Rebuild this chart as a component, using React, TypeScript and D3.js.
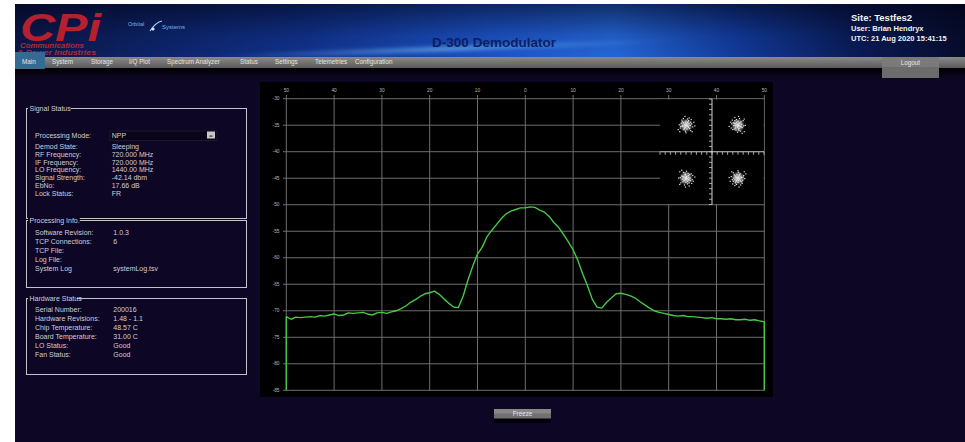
import React from 'react';
import * as d3 from 'd3';

const W = 965;
const H = 442;
const FONT = '"Liberation Sans", Arial, sans-serif';

// ---- data ----
const navTabs = ['Main', 'System', 'Storage', 'I/Q Plot', 'Spectrum Analyzer', 'Status', 'Settings', 'Telemetries', 'Configuration'];

const signalLabels = ['Processing Mode:', 'Demod State:', 'RF Frequency:', 'IF Frequency:', 'LO Frequency:', 'Signal Strength:', 'EbNo:', 'Lock Status:'];
const signalValues = ['NPP', 'Sleeping', '720.000 MHz', '720.000 MHz', '1440.00 MHz', '-42.14 dbm', '17.66 dB', 'FR'];

const procLabels = ['Software Revision:', 'TCP Connections:', 'TCP File:', 'Log File:', 'System Log'];
const procValues = ['1.0.3', '6', '', '', 'systemLog.tsv'];

const hwLabels = ['Serial Number:', 'Hardware Revisions:', 'Chip Temperature:', 'Board Temperature:', 'LO Status:', 'Fan Status:'];
const hwValues = ['200016', '1.48 - 1.1', '48.57 C', '31.00 C', 'Good', 'Good'];

const siteInfo = ['Site: Testfes2', 'User:  Brian Hendryx', 'UTC:  21 Aug 2020 15:41:15'];

const freqTicks = [-50, -40, -30, -20, -10, 0, 10, 20, 30, 40, 50];
const freqTickLabels = ['50', '40', '30', '20', '10', '0', '10', '20', '30', '40', '50'];
const dbTicks = [-30, -35, -40, -45, -50, -55, -60, -65, -70, -75, -80, -85];

const floorDb = -85;
const spectrumStart = -50; // MHz offset of first sample, 1 MHz apart
const spectrumDb = [
  -71.1, -71.6, -71.2, -71.3, -71.2, -71.1, -71.2, -70.9, -71.0, -70.8,
  -70.6, -70.9, -70.8, -70.4, -70.5, -70.4, -70.3, -70.6, -70.8, -70.4,
  -70.3, -70.5, -70.2, -70.0, -69.6, -69.1, -68.4, -67.9, -67.3, -66.8,
  -66.6, -66.3, -66.9, -67.8, -68.6, -69.3, -69.4, -67.2, -64.2, -61.6,
  -59.3, -58.0, -56.0, -54.8, -53.7, -52.6, -51.7, -51.2, -50.9, -50.6,
  -50.6, -50.4, -50.5, -51.0, -51.4, -52.2, -53.4, -54.3, -55.6, -57.0,
  -58.5, -60.5, -63.0, -65.3, -67.8, -69.3, -69.5, -68.4, -67.6, -66.8,
  -66.7, -66.9, -67.2, -67.6, -68.3, -68.9, -69.5, -70.0, -70.3, -70.5,
  -70.7, -70.9, -71.0, -70.9, -71.1, -71.1, -71.2, -71.3, -71.4, -71.3,
  -71.5, -71.5, -71.6, -71.5, -71.7, -71.7, -71.6, -71.8, -71.7, -71.9,
  -72.1,
];

const iqCenters = [[-0.5, 0.5], [0.5, 0.5], [-0.5, -0.5], [0.5, -0.5]];
const iqNoise = [
  [0.01, 0.02], [-0.03, 0.01], [0.04, -0.02], [-0.02, -0.04], [0.06, 0.03], [-0.05, 0.05],
  [0.02, -0.07], [-0.07, -0.01], [0.08, 0.0], [0.0, 0.08], [-0.04, -0.08], [0.07, -0.06],
  [-0.09, 0.04], [0.05, 0.09], [-0.01, -0.11], [0.11, 0.03], [-0.11, -0.05], [0.03, 0.12],
  [0.09, -0.1], [-0.08, 0.1], [0.13, -0.03], [-0.13, 0.01], [0.0, -0.14], [0.06, 0.14],
  [-0.05, 0.13], [0.15, 0.06], [-0.15, -0.08], [0.1, 0.11], [-0.12, -0.12], [0.12, -0.12],
  [0.03, 0.05], [-0.06, -0.02], [0.02, 0.0], [-0.01, 0.05], [0.05, -0.04], [-0.03, -0.06],
  [0.17, -0.01], [-0.02, 0.17], [0.04, 0.07], [-0.07, 0.07], [0.09, 0.06], [-0.1, -0.02],
];

// ---- layout ----
const plot = { left: 260, top: 82, right: 773, bottom: 397 };
const inset = { left: 660, right: 764, top: 99, bottom: 204.5 };

const x = d3.scaleLinear().domain([-50, 50]).range([286.3, 764.3]);
const y = d3.scaleLinear().domain([-30, -85]).range([98.7, 390.3]);
const iqX = d3.scaleLinear().domain([-1, 1]).range([inset.left, inset.right]);
const iqY = d3.scaleLinear().domain([-1, 1]).range([inset.bottom, inset.top]);

const BG = '#0d0625';

function Panel({ top, height, title, labels, values, rowY, valueX, children = null }) {
  return (
    <g fontFamily={FONT} fontSize={7} fill="#cfcfd8">
      <rect x={26.5} y={top} width={220} height={height} fill="none" stroke="#c4c4cc" strokeWidth={1} />
      <rect x={28} y={top - 4} width={title.length * 3.05 + 3} height={8} fill={BG} />
      <text x={29.5} y={top} dy="0.35em">{title}</text>
      {children}
      {labels.map((l, i) => (
        <g key={l}>
          <text x={35} y={rowY(i)} dy="0.35em">{l}</text>
          <text x={valueX} y={rowY(i)} dy="0.35em">{values[i]}</text>
        </g>
      ))}
    </g>
  );
}

function Header() {
  const tabX = [22, 52, 91, 129, 167, 240, 275, 315, 355];
  return (
    <g fontFamily={FONT}>
      <defs>
        <linearGradient id="banner" x1="0" x2="1" y1="0" y2="0">
          <stop offset="0" stopColor="#0b1648" />
          <stop offset="0.3" stopColor="#10318a" />
          <stop offset="0.5" stopColor="#1c52c4" />
          <stop offset="0.63" stopColor="#2466d6" />
          <stop offset="0.76" stopColor="#123a9a" />
          <stop offset="0.88" stopColor="#0a1c58" />
          <stop offset="1" stopColor="#060c2c" />
        </linearGradient>
        <linearGradient id="bannerShade" x1="0" x2="0" y1="0" y2="1">
          <stop offset="0" stopColor="#000010" stopOpacity="0.55" />
          <stop offset="0.6" stopColor="#000010" stopOpacity="0.1" />
          <stop offset="1" stopColor="#000010" stopOpacity="0" />
        </linearGradient>
        <linearGradient id="nav" x1="0" x2="0" y1="0" y2="1">
          <stop offset="0" stopColor="#8a8a8a" />
          <stop offset="1" stopColor="#5a5a5a" />
        </linearGradient>
        <linearGradient id="strip" x1="0" x2="0" y1="0" y2="1">
          <stop offset="0" stopColor="#000000" />
          <stop offset="1" stopColor={BG} />
        </linearGradient>
        <linearGradient id="swoosh" x1="0" x2="1" y1="0" y2="0">
          <stop offset="0" stopColor="#6ab8ff" stopOpacity="0" />
          <stop offset="0.5" stopColor="#7cc4ff" stopOpacity="0.75" />
          <stop offset="1" stopColor="#6ab8ff" stopOpacity="0" />
        </linearGradient>
        <filter id="blur2"><feGaussianBlur stdDeviation="2" /></filter>
      </defs>
      <rect x={15} y={4} width={W - 15} height={53} fill="url(#banner)" />
      <rect x={15} y={4} width={W - 15} height={53} fill="url(#bannerShade)" />
      <path d="M200,57 Q420,46 700,40 Q500,50 260,57 Z" fill="url(#swoosh)" filter="url(#blur2)" />

      {/* CPI logo */}
      <text x={20} y={41} fontSize={38} fontWeight={900} fontStyle="italic" fill="#b4202e"
        textLength={81} lengthAdjust="spacingAndGlyphs">CPi</text>
      <text x={20} y={47.5} fontSize={6.4} fontStyle="italic" fontWeight={700} fill="#b02a3a"
        textLength={64} lengthAdjust="spacingAndGlyphs">Communications</text>
      <text x={17} y={55} fontSize={6.4} fontStyle="italic" fontWeight={700} fill="#b02a3a"
        textLength={79} lengthAdjust="spacingAndGlyphs">&amp; Power Industries</text>

      {/* Orbital Systems logo */}
      <text x={128} y={26} fontSize={5.5} fill="#7ab4e0">Orbital</text>
      <path d="M150,31 Q156,22 162,21" fill="none" stroke="#9fd0f0" strokeWidth={1.2} />
      <circle cx={153} cy={29} r={1.6} fill="#d0e8ff" />
      <text x={162} y={29} fontSize={6} fill="#7ab4e0">Systems</text>

      <text x={494} y={46.5} fontSize={13.5} fontWeight={700} fill="#0b1f63" textAnchor="middle">D-300 Demodulator</text>

      <g fill="#f2f2f2" fontWeight={700} style={{ whiteSpace: 'pre' }}>
        <text x={851} y={21} fontSize={9.5}>{siteInfo[0]}</text>
        <text x={851} y={31} fontSize={7.5}>{siteInfo[1]}</text>
        <text x={851} y={40.5} fontSize={7.5}>{siteInfo[2]}</text>
      </g>

      <rect x={15} y={57} width={W - 15} height={11} fill="url(#nav)" />
      <rect x={15} y={68} width={W - 15} height={10} fill="url(#strip)" />
      <rect x={15} y={52} width={30} height={17} fill="#356a92" />
      {navTabs.map((t, i) => (
        <text key={t} x={tabX[i]} y={63.5} fontSize={6.3} fill="#e6e6e6">{t}</text>
      ))}
      <rect x={882} y={57} width={57} height={21} fill="#6c6c6c" />
      <rect x={882} y={57} width={57} height={10} fill="#7a7a7a" />
      <text x={910.5} y={65} fontSize={6.3} fill="#e6e6e6" textAnchor="middle">Logout</text>
    </g>
  );
}

function Spectrum() {
  const pts = [[spectrumStart, floorDb]]
    .concat(spectrumDb.map((d, i) => [spectrumStart + i, d]))
    .concat([[spectrumStart + spectrumDb.length - 1, floorDb]]);
  const line = d3.line().x(d => x(d[0])).y(d => y(d[1]));
  const gridC = '#6e6e6e';
  const rot = [
    (dx, dy) => [dx, dy],
    (dx, dy) => [-dy, dx],
    (dx, dy) => [dy, -dx],
    (dx, dy) => [-dx, -dy],
  ];
  return (
    <g fontFamily={FONT}>
      <defs>
        <radialGradient id="glow">
          <stop offset="0" stopColor="#ffffff" stopOpacity="0.95" />
          <stop offset="0.5" stopColor="#e8e8e8" stopOpacity="0.6" />
          <stop offset="1" stopColor="#ffffff" stopOpacity="0" />
        </radialGradient>
      </defs>
      <rect x={plot.left} y={plot.top} width={plot.right - plot.left} height={plot.bottom - plot.top} fill="#000" />
      {dbTicks.map(t => (
        <g key={t}>
          <line x1={283} x2={x(50)} y1={y(t)} y2={y(t)} stroke={gridC} strokeWidth={1} />
          <text x={279.5} y={y(t)} dy="0.35em" fontSize={4.8} fill="#b8b8b8" textAnchor="end">{t}</text>
        </g>
      ))}
      {freqTicks.map((t, i) => (
        <g key={t}>
          <line x1={x(t)} x2={x(t)} y1={95} y2={y(-85)} stroke={gridC} strokeWidth={1} />
          <text x={x(t)} y={92} fontSize={4.8} fill="#b8b8b8" textAnchor="middle">{freqTickLabels[i]}</text>
        </g>
      ))}

      {/* constellation inset */}
      <rect x={inset.left} y={inset.top + 0.6} width={inset.right - inset.left - 0.5} height={inset.bottom - inset.top - 1.2} fill="#000" />
      <line x1={iqX(-1)} x2={iqX(1)} y1={iqY(0)} y2={iqY(0)} stroke="#cfcfcf" strokeWidth={1} />
      <line x1={iqX(0)} x2={iqX(0)} y1={iqY(1)} y2={iqY(-1)} stroke="#cfcfcf" strokeWidth={1} />
      {iqX.ticks(20).map(t => (
        <line key={'h' + t} x1={iqX(t)} x2={iqX(t)} y1={iqY(0)} y2={iqY(0) + 3} stroke="#cfcfcf" strokeWidth={0.8} />
      ))}
      {iqY.ticks(20).map(t => (
        <line key={'v' + t} x1={iqX(0) - 3} x2={iqX(0)} y1={iqY(t)} y2={iqY(t)} stroke="#cfcfcf" strokeWidth={0.8} />
      ))}
      {iqCenters.map((c, k) => (
        <g key={k}>
          <circle cx={iqX(c[0])} cy={iqY(c[1])} r={7} fill="url(#glow)" />
          {iqNoise.map((n, j) => {
            const [dx, dy] = rot[k](n[0], n[1]);
            return <rect key={j} x={iqX(c[0] + dx) - 0.6} y={iqY(c[1] + dy) - 0.6} width={1.2} height={1.2} fill="#e6e6e6" />;
          })}
        </g>
      ))}

      <path d={line(pts)} fill="none" stroke="#46c846" strokeWidth={1.4} strokeLinejoin="round" />
    </g>
  );
}

export default function App() {
  return (
    <svg width={W} height={H} style={{ position: 'absolute', left: 0, top: 0, display: 'block' }}>
      <rect width={W} height={H} fill="#ffffff" />
      <rect x={15} y={4} width={W - 15} height={H - 4} fill={BG} />
      <Header />

      <Panel top={108.5} height={110} title="Signal Status" labels={signalLabels} values={signalValues}
        valueX={111.7} rowY={i => (i === 0 ? 135.5 : 146.7 + (i - 1) * 7.75)}>
        <rect x={110} y={131} width={107} height={9.5} fill="#0a0419" stroke="#2a2438" strokeWidth={0.6} />
        <rect x={207} y={131.5} width={8} height={7} fill="#c8c8c8" />
        <rect x={209.5} y={135.5} width={3} height={1.2} fill="#333" />
      </Panel>

      <Panel top={220.5} height={67} title="Processing Info." labels={procLabels} values={procValues}
        valueX={113.3} rowY={i => 232.7 + i * 9} />
      <Panel top={298.5} height={76} title="Hardware Status" labels={hwLabels} values={hwValues}
        valueX={113.3} rowY={i => 309.3 + i * 8.95} />

      <Spectrum />

      <rect x={494} y={418} width={57} height={5} fill="#000" opacity={0.7} />
      <rect x={494} y={409} width={57} height={9.5} fill="#707070" />
      <rect x={494} y={409} width={57} height={4.5} fill="#888" />
      <text x={522.5} y={414} dy="0.35em" fontFamily={FONT} fontSize={6.3} fill="#e8e8e8" textAnchor="middle">Freeze</text>
    </svg>
  );
}
